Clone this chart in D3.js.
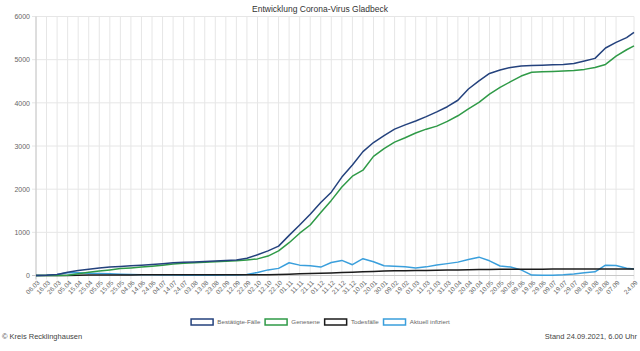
<!DOCTYPE html>
<html>
<head>
<meta charset="utf-8">
<script src="https://cdn.jsdelivr.net/npm/d3@7"></script>
<style>
  body { margin: 0; background: #fff; }
  text { font-family: "Liberation Sans", Arial, sans-serif; }
</style>
</head>
<body>
<div id="okvir"></div>
<script>
// podaci ocitani sa slike (svakih 10 dana + zadnji dan)
const datumi = [
  "06.03.2020", "16.03.2020", "26.03.2020", "05.04.2020", "15.04.2020", "25.04.2020",
  "05.05.2020", "15.05.2020", "25.05.2020", "04.06.2020", "14.06.2020", "24.06.2020",
  "04.07.2020", "14.07.2020", "24.07.2020", "03.08.2020", "13.08.2020", "23.08.2020",
  "02.09.2020", "12.09.2020", "22.09.2020", "02.10.2020", "12.10.2020", "22.10.2020",
  "01.11.2020", "11.11.2020", "21.11.2020", "01.12.2020", "11.12.2020", "21.12.2020",
  "31.12.2020", "10.01.2021", "20.01.2021", "30.01.2021", "09.02.2021", "19.02.2021",
  "01.03.2021", "11.03.2021", "21.03.2021", "31.03.2021", "10.04.2021", "20.04.2021",
  "30.04.2021", "10.05.2021", "20.05.2021", "30.05.2021", "09.06.2021", "19.06.2021",
  "29.06.2021", "09.07.2021", "19.07.2021", "29.07.2021", "08.08.2021", "18.08.2021",
  "28.08.2021", "07.09.2021", "17.09.2021", "24.09.2021"
]

const bestaetigt = [
  0, 5, 25, 75, 115, 145, 175, 195, 210, 225, 240, 255,
  275, 295, 305, 315, 325, 335, 345, 360, 400, 480, 570, 680,
  930, 1170, 1420, 1690, 1930, 2280, 2560, 2870, 3080, 3240, 3390, 3490,
  3580, 3680, 3790, 3910, 4060, 4320, 4510, 4680, 4760, 4820, 4855, 4865,
  4870, 4880, 4890, 4910, 4970, 5030, 5270, 5400, 5510, 5630
]

const genesen = [
  0, 0, 0, 5, 40, 75, 105, 130, 160, 175, 195, 215,
  240, 265, 285, 297, 307, 318, 328, 340, 360, 385, 450, 570,
  760, 980, 1170, 1460, 1740, 2050, 2300, 2440, 2760, 2940, 3090, 3190,
  3300, 3390, 3460, 3570, 3700, 3860, 4010, 4200, 4360, 4490, 4620, 4710,
  4720, 4725, 4735, 4750, 4775, 4820, 4890, 5080, 5230, 5320
]

const todesfaelle = [
  0, 0, 0, 2, 6, 10, 12, 13, 14, 14, 15, 15,
  15, 15, 15, 16, 16, 16, 16, 16, 16, 17, 20, 25,
  30, 38, 45, 52, 60, 68, 75, 85, 95, 102, 108, 112,
  115, 118, 122, 126, 130, 134, 137, 140, 143, 145, 146, 147,
  147, 148, 148, 148, 149, 149, 150, 150, 150, 150
]

const aktuell = [
  0, 5, 22, 65, 62, 55, 48, 40, 30, 25, 18, 15,
  12, 10, 8, 8, 8, 8, 10, 12, 25, 70, 130, 165,
  295, 240, 227, 195, 300, 350, 250, 390, 320, 225, 212, 200,
  175, 200, 243, 275, 310, 370, 425, 340, 220, 195, 130, 10,
  5, 8, 18, 35, 65, 85, 240, 230, 166, 150
]

const yOznake = [0, 1000, 2000, 3000, 4000, 5000, 6000]
const preskoceneOznake = ["17.09.2021"]

const serije = [
  { ime: "Bestätigte-Fälle", vrijednosti: bestaetigt, boja: "#24427d" },
  { ime: "Genesene", vrijednosti: genesen, boja: "#2f9a47" },
  { ime: "Todesfälle", vrijednosti: todesfaelle, boja: "#1b1b1b" },
  { ime: "Aktuell infiziert", vrijednosti: aktuell, boja: "#3a9fdc" },
]

function drawChart() {
  const parseDatum = d3.timeParse("%d.%m.%Y")
  const formatDatum = d3.timeFormat("%d.%m")
  const dani = datumi.map(parseDatum)

  // dimenzije
  let dimenzije = {
    sirina: 640,
    visina: 351,
    margine: { top: 16.5, right: 6, bottom: 75.5, left: 36 },
  }
  dimenzije.grSirina = dimenzije.sirina - dimenzije.margine.left - dimenzije.margine.right
  dimenzije.grVisina = dimenzije.visina - dimenzije.margine.top - dimenzije.margine.bottom

  const okvir = d3.select("#okvir")
    .append("svg")
      .attr("width", dimenzije.sirina)
      .attr("height", dimenzije.visina)

  okvir.append("text")
      .attr("x", dimenzije.sirina / 2)
      .attr("y", 12)
      .attr("text-anchor", "middle")
      .style("font-size", "8.5px")
      .style("fill", "#333")
      .text("Entwicklung Corona-Virus Gladbeck")

  const granice = okvir.append("g")
      .attr("transform", `translate(${dimenzije.margine.left}, ${dimenzije.margine.top})`)

  // razmjeri
  const xSkala = d3.scaleTime()
    .domain(d3.extent(dani))
    .range([0, dimenzije.grSirina])

  const ySkala = d3.scaleLinear()
    .domain([0, 6000])
    .range([dimenzije.grVisina, 0])

  // mreza
  const prikazaniDani = dani.filter((d, i) => !preskoceneOznake.includes(datumi[i]))

  granice.append("g")
    .selectAll("line")
    .data(prikazaniDani)
    .join("line")
      .attr("x1", d => xSkala(d))
      .attr("x2", d => xSkala(d))
      .attr("y1", 0)
      .attr("y2", dimenzije.grVisina + 4)
      .attr("stroke", "#e6e6e6")
      .attr("stroke-width", 1)

  granice.append("g")
    .selectAll("line")
    .data(yOznake)
    .join("line")
      .attr("x1", -4)
      .attr("x2", dimenzije.grSirina)
      .attr("y1", d => ySkala(d))
      .attr("y2", d => ySkala(d))
      .attr("stroke", d => d === 0 ? "#c8c8c8" : "#e6e6e6")
      .attr("stroke-width", 1)

  granice.append("line")
      .attr("x1", 0).attr("x2", 0)
      .attr("y1", 0).attr("y2", dimenzije.grVisina + 4)
      .attr("stroke", "#c8c8c8")

  // osi
  const yOs = d3.axisLeft(ySkala)
    .tickValues(yOznake)
    .tickFormat(d3.format("d"))
    .tickSize(0)
    .tickPadding(6)
  const yOsG = granice.append("g").call(yOs)
  yOsG.select(".domain").remove()
  yOsG.selectAll("text")
      .style("font-size", "7px")
      .style("fill", "#666")
      .style("font-family", "Liberation Sans, Arial, sans-serif")

  const xOs = d3.axisBottom(xSkala)
    .tickValues(prikazaniDani)
    .tickFormat(formatDatum)
    .tickSize(0)
  const xOsG = granice.append("g")
      .attr("transform", `translate(0, ${dimenzije.grVisina})`)
      .call(xOs)
  xOsG.select(".domain").remove()
  xOsG.selectAll("text")
      .attr("text-anchor", "end")
      .attr("dy", "0.35em")
      .attr("transform", "translate(2, 6) rotate(-45)")
      .style("font-size", "6.5px")
      .style("fill", "#666")
      .style("font-family", "Liberation Sans, Arial, sans-serif")
      .attr("y", 0)
      .attr("x", 0)

  // linije
  const linijaGenerator = vrijednosti => d3.line()
    .x((d, i) => xSkala(dani[i]))
    .y(d => ySkala(d))(vrijednosti)

  granice.append("g")
    .selectAll("path")
    .data(serije.slice().reverse())
    .join("path")
      .attr("d", d => linijaGenerator(d.vrijednosti))
      .attr("fill", "none")
      .attr("stroke", d => d.boja)
      .attr("stroke-width", 1.5)
      .attr("stroke-linejoin", "round")

  // legenda
  const legenda = okvir.append("g")
  let pomak = 0
  serije.forEach(s => {
    const stavka = legenda.append("g")
        .attr("transform", `translate(${pomak}, 0)`)
    stavka.append("rect")
        .attr("x", 0.75)
        .attr("y", -3)
        .attr("width", 22)
        .attr("height", 6)
        .attr("fill", "#fff")
        .attr("stroke", s.boja)
        .attr("stroke-width", 1.5)
    const tekst = stavka.append("text")
        .attr("x", 27)
        .attr("y", 2.3)
        .style("font-size", "6.2px")
        .style("fill", "#666")
        .text(s.ime)
    pomak += 27 + tekst.node().getComputedTextLength() + 4
  })
  legenda.attr("transform", `translate(${189 + (dimenzije.sirina / 2 - 189) - (pomak - 4) / 2}, 322)`)

  okvir.append("text")
      .attr("x", 2)
      .attr("y", 339)
      .style("font-size", "7.5px")
      .style("fill", "#444")
      .text("© Kreis Recklinghausen")

  okvir.append("text")
      .attr("x", 637)
      .attr("y", 339)
      .attr("text-anchor", "end")
      .style("font-size", "7.5px")
      .style("fill", "#444")
      .text("Stand 24.09.2021, 6.00 Uhr")
}
drawChart()
</script>
</body>
</html>
